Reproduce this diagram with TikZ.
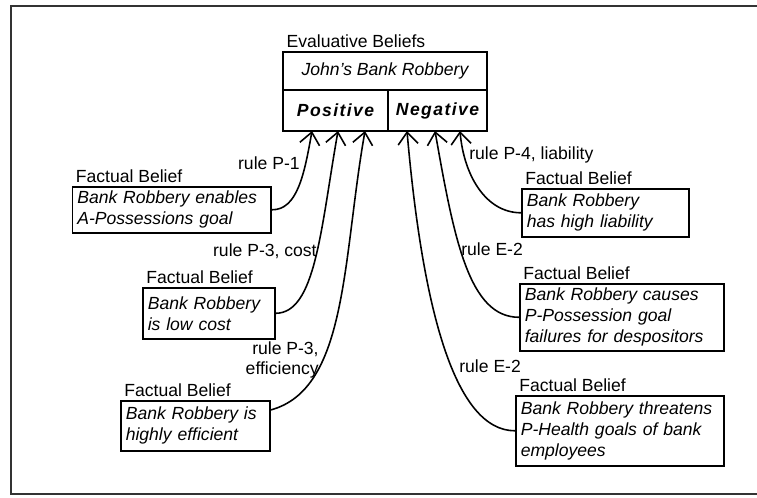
\documentclass[tikz,border=0pt]{standalone}
\usepackage{fontspec}
\setmainfont{Liberation Sans}
\usetikzlibrary{arrows.meta}

\tikzset{
  evalbox/.style={draw, line width=0.9pt, inner sep=0pt, font=\fontsize{10}{12}\selectfont},
  fact/.style={draw, line width=0.9pt, anchor=north west, inner xsep=0.1cm, inner ysep=0pt, align=left, font=\fontsize{10}{12}\selectfont\itshape},
  head/.style={anchor=base west, inner sep=0pt, xshift=0.08cm, yshift=0.08cm, font=\fontsize{10}{12}\selectfont},
  rulelabel/.style={inner sep=0pt, font=\fontsize{10}{11}\selectfont},
  support/.style={line width=0.9pt, -{Straight Barb[length=2.4mm, width=4mm]}}
}

\begin{document}
\begin{tikzpicture}[x=0.02cm, y=0.02cm]
	\useasboundingbox (0,0) rectangle (757,-497);
	% Frame
	\draw[line width=0.8pt, black!80] (757,-6) -- (11,-6) -- (11,-494) -- (757,-494);
	% Evaluative beliefs
	\node[evalbox, minimum width=4.08cm, minimum height=0.76cm] (robbery) at (385,-71) {\itshape John's Bank Robbery};
	\node[evalbox, minimum width=2.1cm, minimum height=0.82cm] (pos) at (335.5,-110.5) {\bfseries\itshape\addfontfeature{LetterSpace=8}Positive};
	\node[evalbox, minimum width=1.98cm, minimum height=0.82cm] (neg) at (437.5,-110.5) {\bfseries\itshape\addfontfeature{LetterSpace=8}Negative};
	\node[head] (evalhead) at (robbery.north west) {Evaluative Beliefs};
	% Arrow tips on the lower edge
	\coordinate (p1) at (312,-131);
	\coordinate (p2) at (338,-131);
	\coordinate (p3) at (365,-131);
	\coordinate (n1) at (407,-131);
	\coordinate (n2) at (435,-131);
	\coordinate (n3) at (460,-131);
	% Factual beliefs, left
	\node[fact, text width=3.78cm, minimum height=0.92cm] (fa) at (71.5,-186) {Bank Robbery enables\\A-Possessions goal};
	\node[head] (fahead) at (fa.north west) {Factual Belief};
	\node[fact, text width=2.44cm, minimum height=1.02cm] (fb) at (142,-287) {Bank Robbery\\is low cost};
	\node[head] (fbhead) at (fb.north west) {Factual Belief};
	\node[fact, text width=2.78cm, minimum height=1.0cm] (fc) at (120,-400) {Bank Robbery is\\highly efficient};
	\node[head] (fchead) at (fc.north west) {Factual Belief};
	% Factual beliefs, right
	\node[fact, text width=3.14cm, minimum height=0.96cm] (ra) at (521,-188) {Bank Robbery\\has high liability};
	\node[head] (rahead) at (ra.north west) {Factual Belief};
	\node[fact, text width=3.88cm, minimum height=1.34cm] (rb) at (519,-283) {Bank Robbery causes\\P-Possession goal\\failures for despositors};
	\node[head] (rbhead) at (rb.north west) {Factual Belief};
	\node[fact, text width=3.96cm, minimum height=1.40cm] (rc) at (515,-395) {Bank Robbery threatens\\P-Health goals of bank\\employees};
	\node[head] (rchead) at (rc.north west) {Factual Belief};
	% Rules
	\node[rulelabel, anchor=east] (rulea) at (300,-163) {rule P-1};
	\node[rulelabel, anchor=east] (ruleb) at (317,-251) {rule P-3, cost};
	\node[rulelabel, anchor=east, align=right] (rulec) at (319,-360) {rule P-3,\\efficiency};
	\node[rulelabel, anchor=west] (ruled) at (469,-155) {rule P-4, liability};
	\node[rulelabel, anchor=west] (rulee) at (461,-249) {rule E-2};
	\node[rulelabel, anchor=west] (rulef) at (459,-366) {rule E-2};
	% Support links
	\draw[support] (fa.east) to[out=0, in=-100, out distance=0.5cm, in distance=0.9cm] (p1);
	\draw[support] (fb.east) to[out=0, in=-100, out distance=0.8cm, in distance=2cm] (p2);
	\draw[support] ([yshift=-0.2cm]fc.north east) to[out=15, in=-100, out distance=1.6cm, in distance=2.6cm] (p3);
	\draw[support] (ra.west) to[out=180, in=-85, out distance=0.7cm, in distance=0.9cm] (n3);
	\draw[support] (rb.west) to[out=180, in=-80, out distance=1cm, in distance=2.2cm] (n2);
	\draw[support] (rc.west) to[out=180, in=-85, out distance=1.2cm, in distance=3.6cm] (n1);
\end{tikzpicture}
\end{document}
